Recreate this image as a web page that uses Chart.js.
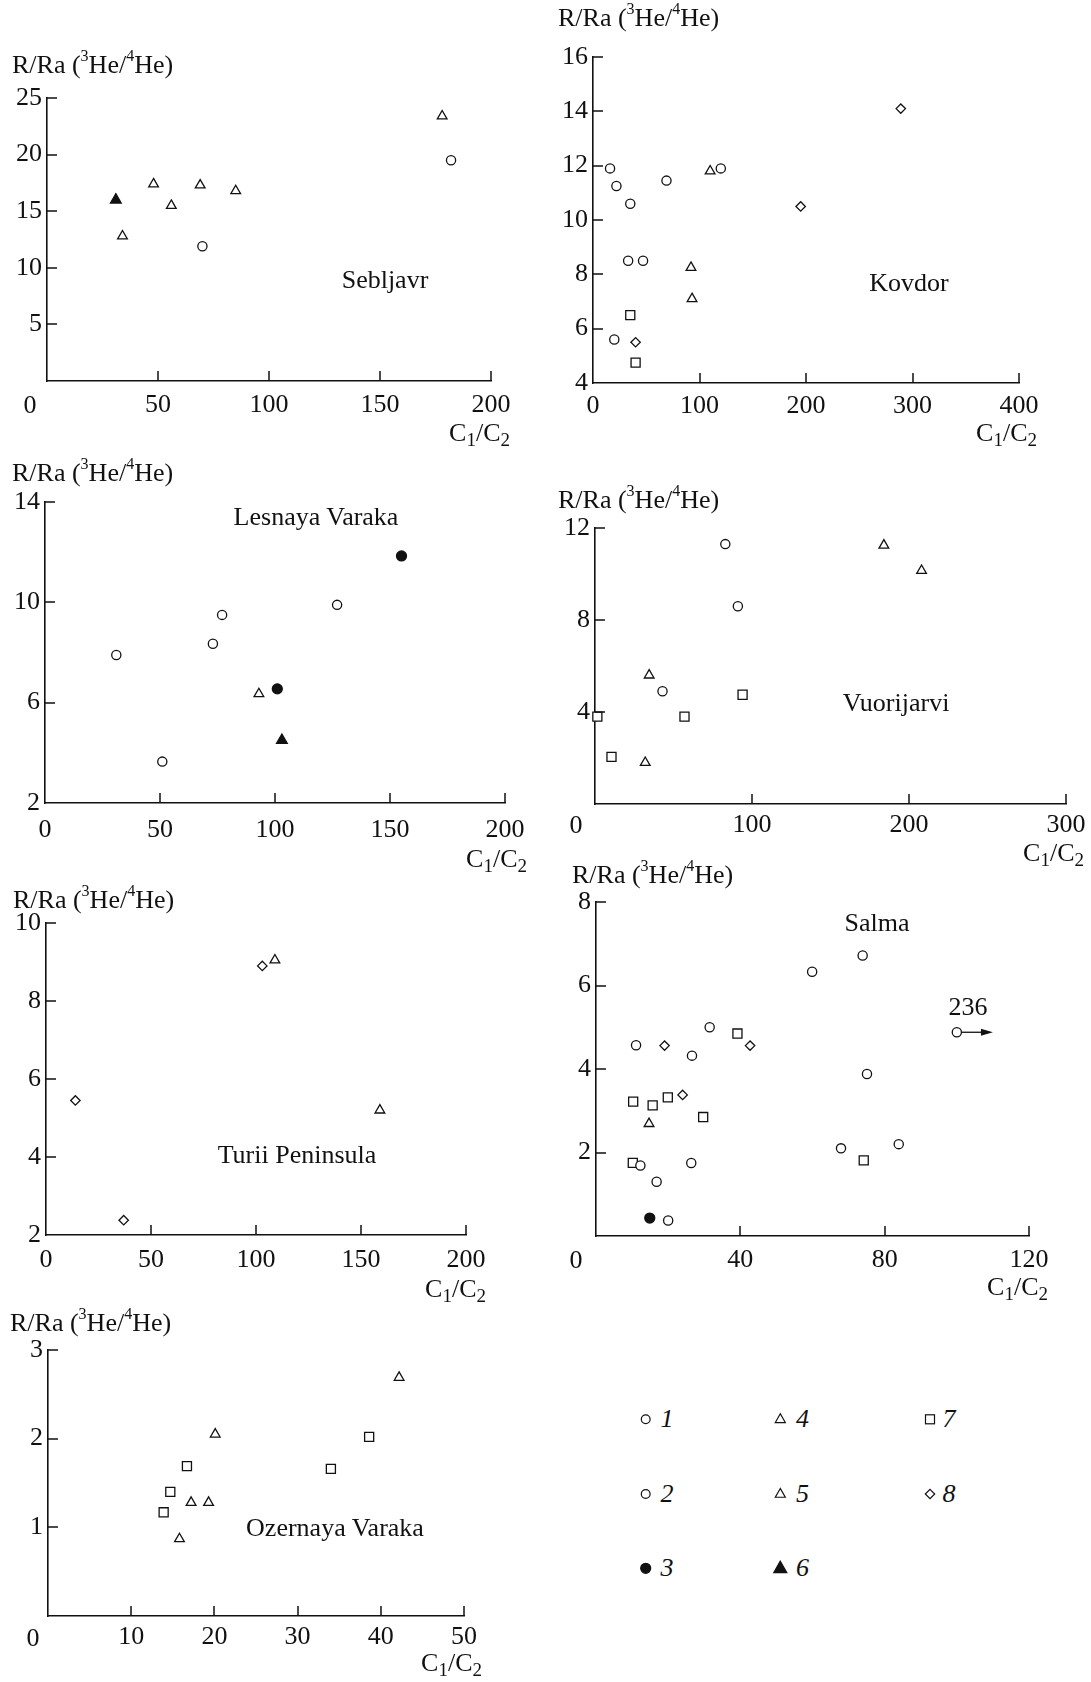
<!DOCTYPE html>
<html>
<head>
<meta charset="utf-8">
<script src="https://cdn.jsdelivr.net/npm/chart.js@4.4.1/dist/chart.umd.min.js"></script>
<style>
html,body{margin:0;padding:0;background:#fff;overflow:hidden;}
body{width:1091px;height:1682px;position:relative;font-family:"Liberation Serif","Times New Roman",serif;color:#111;}
canvas{position:absolute;}
.t{position:absolute;font-size:26px;line-height:30px;height:30px;white-space:nowrap;color:#111;z-index:5;}
.t sup{font-size:16px;position:relative;top:-12px;vertical-align:baseline;line-height:0;}
.t sub{font-size:19px;position:relative;top:5px;vertical-align:baseline;line-height:0;}
.t.c{transform:translateX(-50%);}
.t.r{transform:translateX(-100%);}
.t.i{font-style:italic;}
#legendSvg{position:absolute;left:600px;top:1380px;}
</style>
</head>
<body>
<script>
// ---------------- DATA ----------------
// Sebljavr
const sebljavrXTicks = [0, 50, 100, 150, 200];
const sebljavrYTicks = [0, 5, 10, 15, 20, 25];
const sebljavrS1 = [[70, 11.9], [182, 19.5]];
const sebljavrS4 = [[34, 12.8], [48, 17.4], [56, 15.5], [69, 17.3], [85, 16.8], [178, 23.4]];
const sebljavrS6 = [[31, 16.0]];

// Kovdor
const kovdorXTicks = [0, 100, 200, 300, 400];
const kovdorYTicks = [4, 6, 8, 10, 12, 14, 16];
const kovdorS1 = [[16, 11.9], [22, 11.25], [35, 10.6], [69, 11.45], [120, 11.9], [33, 8.5], [47, 8.5], [20, 5.6]];
const kovdorS4 = [[110, 11.8], [92, 8.25], [93, 7.1]];
const kovdorS7 = [[35, 6.5], [40, 4.75]];
const kovdorS8 = [[40, 5.5], [195, 10.5], [289, 14.1]];

// Lesnaya Varaka
const lesnayaXTicks = [0, 50, 100, 150, 200];
const lesnayaYTicks = [2, 6, 10, 14];
const lesnayaS1 = [[31, 7.9], [51, 3.65], [73, 8.35], [77, 9.5], [127, 9.9]];
const lesnayaS3 = [[155, 11.85], [101, 6.55]];
const lesnayaS4 = [[93, 6.35]];
const lesnayaS6 = [[103, 4.5]];

// Vuorijarvi
const vuorijarviXTicks = [0, 100, 200, 300];
const vuorijarviYTicks = [0, 4, 8, 12];
const vuorijarviS1 = [[83, 11.3], [91, 8.6], [43, 4.9]];
const vuorijarviS4 = [[184, 11.25], [208, 10.15], [34.5, 5.6], [32, 1.8]];
const vuorijarviS7 = [[94, 4.75], [1.5, 3.8], [57, 3.8], [10.5, 2.05]];

// Turii Peninsula
const turiiXTicks = [0, 50, 100, 150, 200];
const turiiYTicks = [2, 4, 6, 8, 10];
const turiiS4 = [[109, 9.05], [159, 5.2]];
const turiiS8 = [[14, 5.45], [37, 2.38], [103, 8.9]];

// Salma
const salmaXTicks = [0, 40, 80, 120];
const salmaYTicks = [0, 2, 4, 6, 8];
const salmaS1 = [[11.1, 4.57], [31.5, 5.0], [26.6, 4.32], [59.9, 6.33], [73.9, 6.72], [100, 4.88], [75.1, 3.88],
                 [12.3, 1.69], [26.4, 1.75], [16.8, 1.3], [20.0, 0.37], [67.9, 2.1], [83.9, 2.2]];
const salmaS3 = [[14.9, 0.43]];
const salmaS4 = [[14.7, 2.69]];
const salmaS7 = [[39.2, 4.85], [10.3, 3.22], [15.7, 3.13], [19.9, 3.32], [29.7, 2.85], [10.2, 1.75], [74.2, 1.81]];
const salmaS8 = [[19.0, 4.56], [42.7, 4.56], [24.0, 3.38]];
const salmaOffscaleValue = '236';

// Ozernaya Varaka
const ozernayaXTicks = [0, 10, 20, 30, 40, 50];
const ozernayaYTicks = [0, 1, 2, 3];
const ozernayaS4 = [[15.8, 0.87], [17.2, 1.28], [19.3, 1.28], [20.1, 2.05], [42.2, 2.69]];
const ozernayaS7 = [[13.9, 1.17], [14.7, 1.4], [16.7, 1.69], [34.0, 1.66], [38.6, 2.02]];

const legendLabels = ['1', '2', '3', '4', '5', '6', '7', '8'];

// ---------------- STYLES / LAYOUT ----------------
const FONT = '"Liberation Serif", "Times New Roman", serif';
Chart.defaults.font.family = FONT;
Chart.defaults.font.size = 26;
Chart.defaults.color = '#111';
const INK = '#111';

const MARK = {
  s1: {pointStyle: 'circle', radius: 4.6, fill: false},
  s2: {pointStyle: 'circle', radius: 4.6, fill: false},
  s3: {pointStyle: 'circle', radius: 5, fill: true},
  s4: {pointStyle: 'triangle', radius: 5.6, fill: false},
  s5: {pointStyle: 'triangle', radius: 5.6, fill: false},
  s6: {pointStyle: 'triangle', radius: 6.2, fill: true},
  s7: {pointStyle: 'rect', radius: 6.4, fill: false},
  s8: {pointStyle: 'rectRot', radius: 4.7, fill: false}
};

const YW = 70, PT = 30, PR = 50, XH = 50;

const panels = [
  {name: 'Sebljavr', ax: 47, rx: 491, ty: 98, by: 381, xT: sebljavrXTicks, yT: sebljavrYTicks, xLabY: 405, zeroX: 30,
   yTitle: [12, 65], xTitle: [510, 433], label: [385, 280],
   sets: [['s1', sebljavrS1], ['s4', sebljavrS4], ['s6', sebljavrS6]]},
  {name: 'Kovdor', ax: 593, rx: 1019, ty: 57, by: 383, xT: kovdorXTicks, yT: kovdorYTicks, xLabY: 406.5, zeroX: null,
   yTitle: [558, 18], xTitle: [1037, 433], label: [909, 283],
   sets: [['s1', kovdorS1], ['s4', kovdorS4], ['s7', kovdorS7], ['s8', kovdorS8]]},
  {name: 'Lesnaya Varaka', ax: 45, rx: 505, ty: 502, by: 803, xT: lesnayaXTicks, yT: lesnayaYTicks, xLabY: 830, zeroX: null,
   yTitle: [12, 473], xTitle: [527, 859], label: [316, 517],
   sets: [['s1', lesnayaS1], ['s3', lesnayaS3], ['s4', lesnayaS4], ['s6', lesnayaS6]]},
  {name: 'Vuorijarvi', ax: 595, rx: 1066, ty: 528, by: 804, xT: vuorijarviXTicks, yT: vuorijarviYTicks, xLabY: 825, zeroX: 576,
   yTitle: [558, 500], xTitle: [1084, 853], label: [896, 703],
   sets: [['s1', vuorijarviS1], ['s4', vuorijarviS4], ['s7', vuorijarviS7]]},
  {name: 'Turii Peninsula', ax: 46, rx: 466, ty: 923, by: 1235, xT: turiiXTicks, yT: turiiYTicks, xLabY: 1260, zeroX: null,
   yTitle: [13, 900], xTitle: [486, 1289], label: [297, 1155],
   sets: [['s4', turiiS4], ['s8', turiiS8]]},
  {name: 'Salma', ax: 596, rx: 1029, ty: 902, by: 1236, xT: salmaXTicks, yT: salmaYTicks, xLabY: 1260, zeroX: 576,
   yTitle: [572, 875], xTitle: [1048, 1287], label: [877, 923],
   arrow: {from: 100, to: 110, y: 4.88, text: salmaOffscaleValue, textPos: [968, 1007]},
   sets: [['s1', salmaS1], ['s3', salmaS3], ['s4', salmaS4], ['s7', salmaS7], ['s8', salmaS8]]},
  {name: 'Ozernaya Varaka', ax: 48, rx: 464, ty: 1350, by: 1616, xT: ozernayaXTicks, yT: ozernayaYTicks, xLabY: 1637.5, zeroX: 33,
   yTitle: [10, 1323], xTitle: [482, 1663], label: [335, 1528],
   sets: [['s4', ozernayaS4], ['s7', ozernayaS7]]}
];

// ---------------- HELPERS ----------------
function addText(html, x, y, align, extra) {
  const d = document.createElement('div');
  d.className = 't' + (align === 'center' ? ' c' : align === 'right' ? ' r' : '') + (extra ? ' ' + extra : '');
  d.innerHTML = html;
  d.style.left = x + 'px';
  d.style.top = (y - 15) + 'px';
  document.body.appendChild(d);
  return d;
}

const inwardTicks = {
  id: 'inwardTicks',
  afterDraw(chart) {
    const {ctx, chartArea: a, scales: {x, y}} = chart;
    ctx.save();
    ctx.strokeStyle = INK;
    ctx.lineWidth = 1.5;
    ctx.beginPath();
    x.ticks.forEach(t => {
      if (t.value === x.min) return;
      const px = Math.round(x.getPixelForValue(t.value));
      ctx.moveTo(px, a.bottom);
      ctx.lineTo(px, a.bottom - 10);
    });
    y.ticks.forEach(t => {
      if (t.value === y.min) return;
      const py = Math.round(y.getPixelForValue(t.value));
      ctx.moveTo(a.left, py);
      ctx.lineTo(a.left + 10, py);
    });
    ctx.stroke();
    ctx.restore();
  }
};

const arrowPlugin = {
  id: 'arrow',
  afterDatasetsDraw(chart, args, opts) {
    if (!opts || opts.from === undefined) return;
    const {ctx, scales: {x, y}} = chart;
    const px0 = x.getPixelForValue(opts.from) + 5;
    const px1 = x.getPixelForValue(opts.to);
    const py = y.getPixelForValue(opts.y);
    ctx.save();
    ctx.strokeStyle = INK; ctx.fillStyle = INK; ctx.lineWidth = 1.3;
    ctx.beginPath(); ctx.moveTo(px0, py); ctx.lineTo(px1 - 8, py); ctx.stroke();
    ctx.beginPath(); ctx.moveTo(px1, py); ctx.lineTo(px1 - 12, py - 3.5); ctx.lineTo(px1 - 12, py + 3.5); ctx.closePath(); ctx.fill();
    ctx.restore();
  }
};

function makePanel(p) {
  const left = p.ax - YW, top = p.ty - PT;
  const w = p.rx + PR - left, h = p.by + XH - top;
  const c = document.createElement('canvas');
  c.width = w; c.height = h;
  c.style.left = left + 'px'; c.style.top = top + 'px';
  c.style.width = w + 'px'; c.style.height = h + 'px';
  document.body.appendChild(c);

  const xPad = p.xLabY - p.by - 15.6;
  const yMin = p.yT[0], yMax = p.yT[p.yT.length - 1];
  const xMin = p.xT[0], xMax = p.xT[p.xT.length - 1];

  const datasets = p.sets.map(([key, pts]) => {
    const m = MARK[key];
    return {
      label: key,
      data: pts.map(([x, y]) => ({x, y})),
      pointStyle: m.pointStyle,
      pointRadius: m.radius,
      pointBorderWidth: 1.3,
      pointBorderColor: INK,
      pointBackgroundColor: m.fill ? INK : '#fff',
      showLine: false,
      clip: false
    };
  });

  new Chart(c, {
    type: 'scatter',
    data: {datasets},
    options: {
      responsive: false,
      animation: false,
      events: [],
      layout: {padding: {top: PT, right: PR, left: 0, bottom: 0}},
      plugins: {legend: {display: false}, tooltip: {enabled: false}, arrow: p.arrow || {}},
      scales: {
        x: {
          type: 'linear', min: xMin, max: xMax,
          afterBuildTicks: s => { s.ticks = p.xT.map(v => ({value: v})); },
          afterFit: s => { s.height = XH; },
          grid: {display: false, drawTicks: false, tickLength: 0},
          border: {display: true, color: INK, width: 1.6},
          ticks: {padding: xPad, maxRotation: 0, autoSkip: false, color: INK,
                  font: {size: 26, family: FONT},
                  callback: v => (p.zeroX !== null && v === 0) ? '' : String(v)}
        },
        y: {
          type: 'linear', min: yMin, max: yMax,
          afterBuildTicks: s => { s.ticks = p.yT.map(v => ({value: v})); },
          afterFit: s => { s.width = YW; },
          grid: {display: false, drawTicks: false, tickLength: 0},
          border: {display: true, color: INK, width: 1.6},
          ticks: {padding: 5, autoSkip: false, color: INK,
                  font: {size: 26, family: FONT},
                  callback: v => (v === 0) ? '' : String(v)}
        }
      }
    },
    plugins: [inwardTicks, arrowPlugin]
  });

  addText('R/Ra (<sup>3</sup>He/<sup>4</sup>He)', p.yTitle[0], p.yTitle[1], 'left');
  addText('C<sub>1</sub>/C<sub>2</sub>', p.xTitle[0], p.xTitle[1], 'right');
  addText(p.name, p.label[0], p.label[1], 'center');
  if (p.zeroX !== null) addText('0', p.zeroX, p.xLabY, 'center');
  if (p.arrow) addText(p.arrow.text, p.arrow.textPos[0], p.arrow.textPos[1], 'center');
}

panels.forEach(makePanel);

// ---------------- LEGEND ----------------
const legendItems = [
  {label: legendLabels[0], key: 's1', col: 0, row: 0},
  {label: legendLabels[1], key: 's2', col: 0, row: 1},
  {label: legendLabels[2], key: 's3', col: 0, row: 2},
  {label: legendLabels[3], key: 's4', col: 1, row: 0},
  {label: legendLabels[4], key: 's5', col: 1, row: 1},
  {label: legendLabels[5], key: 's6', col: 1, row: 2},
  {label: legendLabels[6], key: 's7', col: 2, row: 0},
  {label: legendLabels[7], key: 's8', col: 2, row: 1}
];
const legMarkX = [45.7, 180.3, 330];
const legRowY = [39.3, 114, 188.3];
const legTextX = [660.5, 796, 942.5];
(function () {
  const NS = 'http://www.w3.org/2000/svg';
  const svg = document.createElementNS(NS, 'svg');
  svg.setAttribute('id', 'legendSvg');
  svg.setAttribute('width', '450'); svg.setAttribute('height', '230');
  legendItems.forEach(it => {
    const cx = legMarkX[it.col], cy = legRowY[it.row];
    const m = MARK[it.key];
    let el;
    if (m.pointStyle === 'circle') {
      el = document.createElementNS(NS, 'circle');
      el.setAttribute('cx', cx); el.setAttribute('cy', cy); el.setAttribute('r', m.fill ? 5 : 4.4);
    } else if (m.pointStyle === 'triangle') {
      el = document.createElementNS(NS, 'polygon');
      const s = m.fill ? 6.5 : 5;
      el.setAttribute('points', `${cx},${cy - s * 1.1} ${cx - s},${cy + s * 0.65} ${cx + s},${cy + s * 0.65}`);
    } else if (m.pointStyle === 'rect') {
      el = document.createElementNS(NS, 'rect');
      el.setAttribute('x', cx - 4.5); el.setAttribute('y', cy - 4.5); el.setAttribute('width', 9); el.setAttribute('height', 9);
    } else {
      el = document.createElementNS(NS, 'polygon');
      const s = 4.7;
      el.setAttribute('points', `${cx},${cy - s} ${cx + s},${cy} ${cx},${cy + s} ${cx - s},${cy}`);
    }
    el.setAttribute('fill', m.fill ? INK : '#fff');
    el.setAttribute('stroke', INK);
    el.setAttribute('stroke-width', '1.2');
    svg.appendChild(el);
    addText(it.label, legTextX[it.col], 1380 + cy, 'left', 'i');
  });
  document.body.appendChild(svg);
})();
</script>
</body>
</html>
